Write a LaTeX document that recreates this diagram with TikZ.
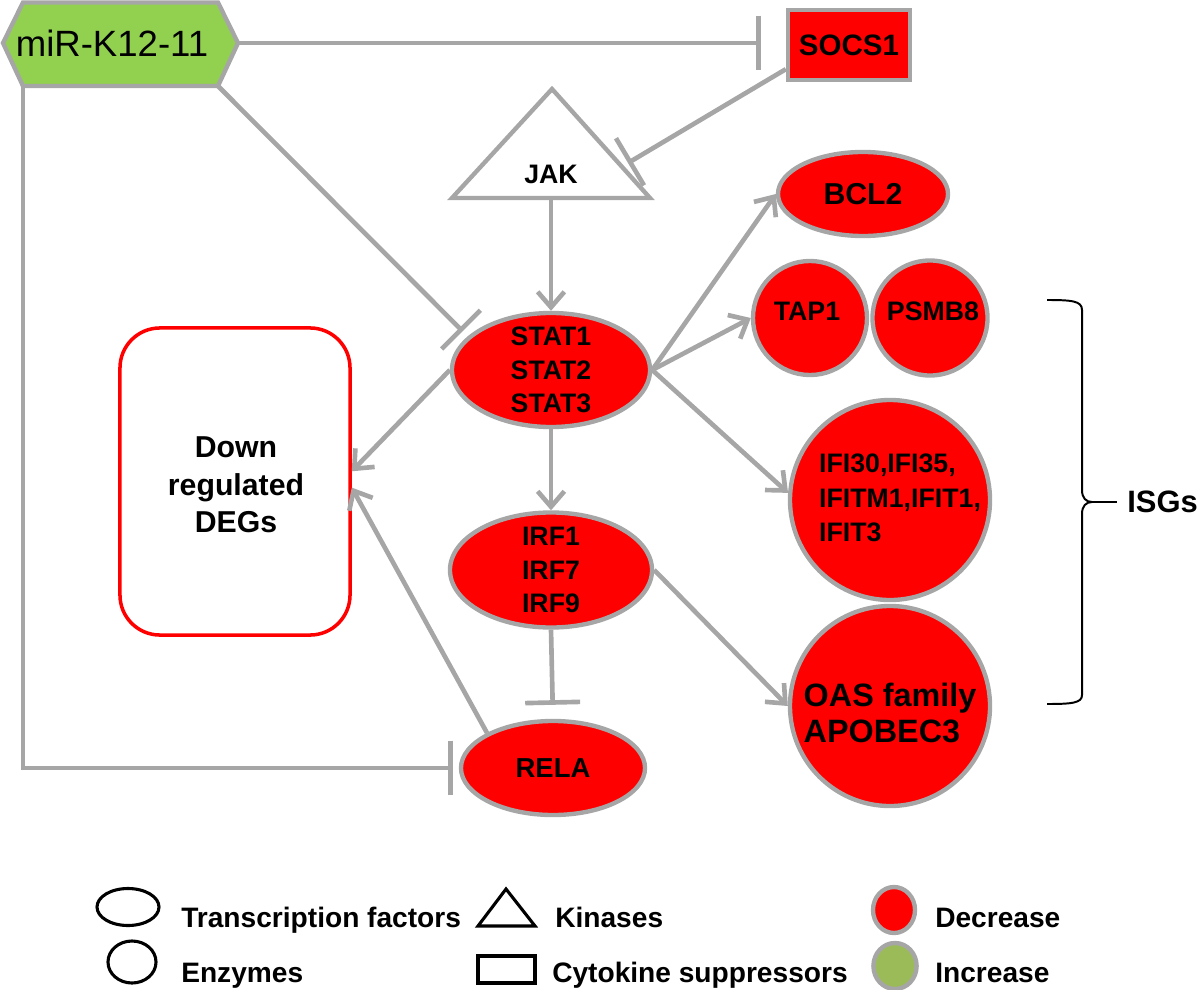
\documentclass[tikz,border=0pt]{standalone}
\usepackage{fontspec}
\setmainfont{Liberation Sans}
\usetikzlibrary{shapes.geometric,arrows.meta,calc}
\definecolor{lgray}{HTML}{A6A6A6}
\definecolor{myred}{HTML}{FF0000}
\definecolor{mygreen}{HTML}{92D050}
\definecolor{leggreen}{HTML}{9BBB59}
\begin{document}
\begin{tikzpicture}[x=0.025cm,y=-0.025cm,
  conn/.style={draw=lgray, line width=3.3pt},
  act/.style={conn, -{Straight Barb[length=11pt,width=19pt]}},
  inh/.style={conn, -{Bar[width=39pt]}},
  redshape/.style={draw=lgray, fill=myred, line width=3.1pt, inner sep=0pt},
  tf/.style={redshape, ellipse},
  enz/.style={redshape, circle},
  lbl/.style={font=\bfseries\fontsize{19}{24}\selectfont, align=center, inner sep=0pt},
  legtxt/.style={font=\bfseries\fontsize{20}{24}\selectfont, anchor=base west, inner sep=0pt},
  legshape/.style={draw=black, line width=2.2pt, inner sep=0pt}
]
\useasboundingbox (0,0) rectangle (1200,990);

% miR-K12-11 hexagon
\draw[draw=lgray, line width=3.1pt, fill=mygreen]
  (3,43) -- (23,2.5) -- (218,2.5) -- (238,43) -- (218,86) -- (23,86) -- cycle;
\coordinate (mirR) at (238,43);
\coordinate (mirBR) at (218,86);
\coordinate (mirBL) at (23,86);
\node[font=\fontsize{26}{30}\selectfont, inner sep=0pt] (mir) at (112,43) {miR-K12-11};

% SOCS1
\node[redshape, rectangle, minimum width=3.05cm, minimum height=1.75cm,
      font=\bfseries\fontsize{21}{25}\selectfont] (socs) at (849,45) {SOCS1};

% JAK triangle
\draw[draw=lgray, line width=3.1pt, fill=white] (552,89) -- (650,198) -- (452,198) -- cycle;
\coordinate (jakB) at (551,198);
\coordinate (jakS) at (628,163);
\node[lbl] (jak) at (551,174) {JAK};

% STAT
\node[tf, minimum width=4.95cm, minimum height=2.85cm] (stat) at (551,370) {};
\node[lbl] (statT) at (stat.center) {STAT1\\STAT2\\STAT3};

% IRF
\node[tf, minimum width=5.05cm, minimum height=2.875cm] (irf) at (551,570) {};
\node[lbl] (irfT) at (irf.center) {IRF1\\IRF7\\IRF9};

% RELA
\node[tf, minimum width=4.6cm, minimum height=2.35cm, font=\bfseries\fontsize{19.5}{24}\selectfont] (rela) at (553,768) {RELA};

% BCL2
\node[tf, minimum width=4.25cm, minimum height=2.1cm, font=\bfseries\fontsize{21.5}{25}\selectfont] (bcl2) at (863,194) {BCL2};

% TAP1, PSMB8
\node[enz, minimum size=2.85cm] (tap1) at (810,318) {};
\node[lbl] (tap1T) at (807,311) {TAP1};
\node[enz, minimum size=2.875cm] (psmb8) at (930,318) {};
\node[lbl] (psmb8T) at (933,311) {PSMB8};

% IFI circle
\node[enz, minimum size=5cm] (ifi) at (890,500) {};
\node[font=\bfseries\fontsize{19}{24.5}\selectfont, align=left, inner sep=0pt] (ifiT) at (900,498)
  {IFI30,IFI35,\\IFITM1,IFIT1,\\IFIT3};

% OAS circle
\node[enz, minimum size=5cm] (oas) at (890,706) {};
\node[font=\bfseries\fontsize{23}{25.5}\selectfont, align=left, inner sep=0pt] (oasT) at (890,713)
  {OAS family\\APOBEC3};

% Down regulated DEGs
\node[draw=myred, line width=2.5pt, fill=white, rounded corners=1cm,
      minimum width=5.75cm, minimum height=7.675cm] (degs) at (235,481.5) {};
\node[font=\bfseries\fontsize{21.5}{26.5}\selectfont, align=center, inner sep=0pt] (degsT) at (236,485)
  {Down\\regulated\\DEGs};

% connectors
\draw[inh, shorten >=0.625cm] (mirR) -- (socs.west |- mirR);
\draw[inh] ($(socs.south west)+(0,-13)$) -- (jakS);
\draw[inh, shorten >=0.18cm] (mirBR) -- (stat.158);
\draw[act] (jakB) -- (stat.north);
\draw[act] (stat.west) -- (degs.5);
\draw[act] (stat.east) -- (bcl2.west);
\draw[act] (stat.east) -- (tap1.west);
\draw[act] (stat.east) -- (ifi.176);
\draw[act] (stat.south) -- (irf.north);
\draw[act] (irf.east) -- (oas.west);
\draw[inh, shorten >=0.35cm] (irf.south) -- (rela.north);
\draw[act] (rela.152) -- (degs.-3);
\draw[inh, shorten >=0.15cm] (mirBL) |- (rela.west);

% ISGs brace
\node[font=\bfseries\fontsize{22}{26}\selectfont, anchor=west, inner sep=0pt] (isgs) at (1127,502) {ISGs};
\coordinate (btip) at (1092,502);
\draw[black, line width=1.4pt] (1047,300) .. controls (1072,300) and (1082,301) .. (1082,310)
  -- (1082,490) .. controls (1082,498) and (1086,502) .. (btip);
\draw[black, line width=1.4pt] (btip) .. controls (1086,502) and (1082,506) .. (1082,514)
  -- (1082,695) .. controls (1082,703) and (1072,704) .. (1047,704);
\draw[black, line width=1.4pt, shorten >=0.25cm] (btip) -- (isgs.west);

% legend
\node[legshape, ellipse, minimum width=1.55cm, minimum height=0.925cm] (lg1) at (128,907) {};
\node[legtxt] (lt1) at (181,927) {Transcription factors};
\node[legshape, ellipse, minimum width=1.2cm, minimum height=1.05cm] (lg2) at (132,962) {};
\node[legtxt] (lt2) at (181,982) {Enzymes};
\draw[black, line width=2.2pt] (506,889) -- (535,926) -- (478,926) -- cycle;
\node[legtxt] (lt3) at (555,927) {Kinases};
\draw[black, line width=2.2pt] (478,956) rectangle (535,983);
\node[legtxt] (lt4) at (552,982) {Cytokine suppressors};
\node[redshape, ellipse, minimum width=1.05cm, minimum height=1.15cm] (lg5) at (894,910) {};
\node[legtxt] (lt5) at (935,927) {Decrease};
\node[redshape, ellipse, fill=leggreen, minimum width=1.08cm, minimum height=1.15cm] (lg6) at (895,966) {};
\node[legtxt] (lt6) at (935,982) {Increase};
\end{tikzpicture}
\end{document}
